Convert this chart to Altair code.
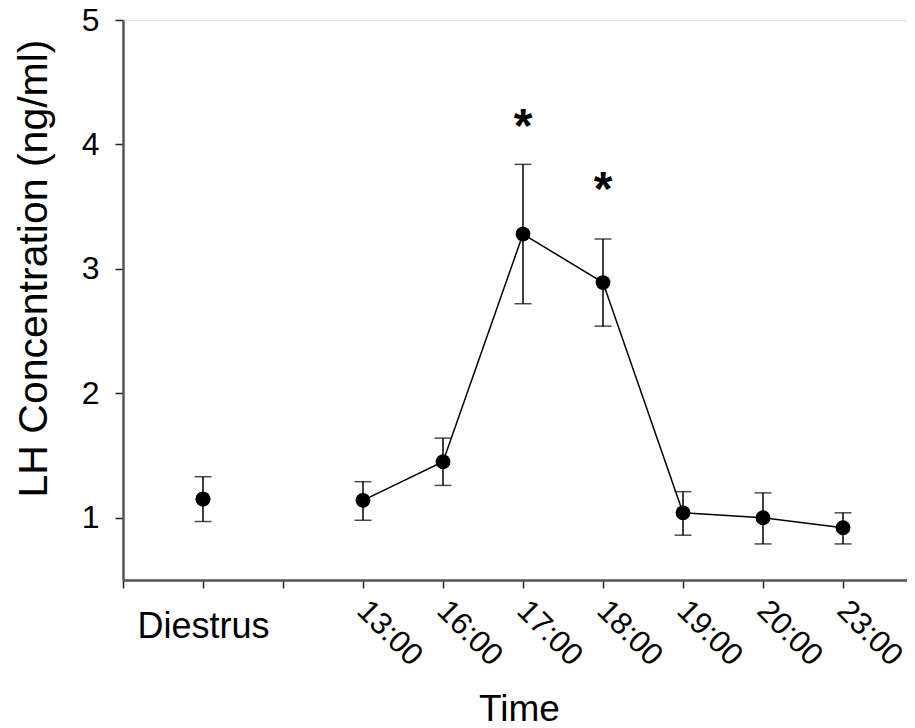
import altair as alt
import pandas as pd

# ---- data ----
categories = ["Diestrus", "13:00", "16:00", "17:00", "18:00", "19:00", "20:00", "23:00"]
x_index = [1, 3, 4, 5, 6, 7, 8, 9]
group = ["baseline", "time", "time", "time", "time", "time", "time", "time"]
lh_mean = [1.15, 1.14, 1.45, 3.28, 2.89, 1.04, 1.00, 0.92]
lh_upper = [1.33, 1.29, 1.64, 3.84, 3.24, 1.21, 1.20, 1.04]
lh_lower = [0.97, 0.98, 1.26, 2.72, 2.54, 0.86, 0.79, 0.79]

star_index = [5, 6]
star_y = [4.19, 3.68]
star_text = ["*", "*"]

y_ticks = [1, 2, 3, 4, 5]
x_ticks = list(range(0, 10))

df = pd.DataFrame({
    "cat": categories, "x": x_index, "group": group,
    "mean": lh_mean, "hi": lh_upper, "lo": lh_lower,
})
stars = pd.DataFrame({"x": star_index, "y": star_y, "t": star_text})

FONT = "Liberation Sans"

# label expression for the rotated time labels (Diestrus is shown horizontally by a second axis)
parts = []
for c, i in zip(categories, x_index):
    if c != "Diestrus":
        parts.append(f"datum.value == {i} ? '{c}'")
time_expr = " : ".join(parts) + " : ''"

xscale = alt.Scale(domain=[0, 9.8], nice=False, zero=False)
yscale = alt.Scale(domain=[0.5, 5], nice=False, zero=False)

x_axis = alt.Axis(
    orient="bottom", values=x_ticks, labelExpr=time_expr, labelAngle=45,
    labelAlign="left", labelBaseline="top", labelFontSize=31, labelFont=FONT,
    labelPadding=7, labelOffset=9, labelColor="black", tickSize=8, tickWidth=1.5,
    tickColor="#222", domainColor="#555", domainWidth=2.5, grid=False,
    title="Time", titleFont=FONT, titleFontSize=37, titleFontWeight="normal",
    titleColor="black", titleX=396, titleY=140, titleAlign="center",
    titleBaseline="alphabetic", labelOverlap=False, labelFlush=False,
)
y_axis = alt.Axis(
    values=y_ticks, format="d", labelFontSize=32, labelFont=FONT, labelColor="black",
    labelPadding=16, tickSize=8, tickWidth=1.5, tickColor="#222",
    domainColor="#555", domainWidth=2.5, grid=False,
    title="LH Concentration (ng/ml)", titleFont=FONT, titleFontSize=41,
    titleFontWeight="normal", titleColor="black", titleAngle=-90,
    titleX=-77, titleY=248, titleAlign="center", titleBaseline="alphabetic",
)

base = alt.Chart(df)
X = alt.X("x:Q", scale=xscale, axis=x_axis)

rules = base.mark_rule(color="black", strokeWidth=1.5).encode(
    x=X, y=alt.Y("lo:Q", scale=yscale, axis=y_axis), y2="hi:Q")
cap_hi = base.mark_tick(color="black", orient="horizontal", size=17, thickness=1.5).encode(
    x=X, y=alt.Y("hi:Q", scale=yscale))
cap_lo = base.mark_tick(color="black", orient="horizontal", size=17, thickness=1.5).encode(
    x=X, y=alt.Y("lo:Q", scale=yscale))
line = base.transform_filter(alt.datum.group == "time").mark_line(
    color="black", strokeWidth=1.5).encode(x=X, y=alt.Y("mean:Q", scale=yscale))
points = base.mark_point(filled=True, color="black", size=220, opacity=1, shape="circle").encode(
    x=X, y=alt.Y("mean:Q", scale=yscale))
star_marks = alt.Chart(stars).mark_text(
    font=FONT, fontSize=48, fontWeight="bold", color="black",
    baseline="alphabetic", align="center", dy=21).encode(
    x=X, y=alt.Y("y:Q", scale=yscale), text="t:N")

main = alt.layer(rules, cap_hi, cap_lo, line, points, star_marks)

# second bottom axis carrying only the horizontal "Diestrus" label
diestrus_pos = [i for c, i in zip(categories, x_index) if c == "Diestrus"]
diestrus_axis = alt.Axis(
    orient="bottom", values=diestrus_pos, labelExpr="'Diestrus'", labelAngle=0,
    labelAlign="center", labelBaseline="top", labelFontSize=36, labelFont=FONT,
    labelColor="black", labelPadding=29, ticks=False, domain=False, grid=False,
    title=None,
)
diestrus_layer = alt.Chart(df).transform_filter(alt.datum.group == "baseline").mark_point(
    filled=True, color="black", size=220, opacity=1, shape="circle").encode(
    x=alt.X("x:Q", scale=xscale, axis=diestrus_axis),
    y=alt.Y("mean:Q", scale=yscale))

chart = alt.layer(main, diestrus_layer).resolve_axis(x="independent").properties(
    width=784, height=560,
    autosize=alt.AutoSizeParams(type="none"),
    padding={"left": 115, "top": 12, "right": 0, "bottom": 148},
).configure_view(stroke=None).configure(background="white")

chart.save("out.html", embed_options={"renderer": "svg", "actions": False})
